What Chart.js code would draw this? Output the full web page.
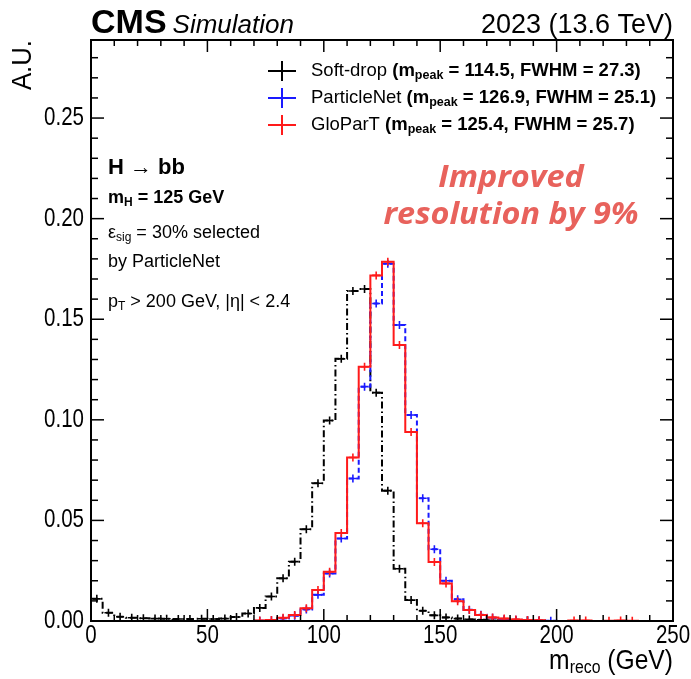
<!DOCTYPE html>
<html lang="en">
<head>
  <meta charset="UTF-8">
  <title>Mass resolution</title>
  <script src="https://cdn.jsdelivr.net/npm/chart.js"></script>
  <style>
    body { margin: 0; background: white; }
    canvas { display: block; }
  </style>
</head>
<body>
  <canvas id="massChart" width="691" height="679"></canvas>
  <script>
    // lower bin edges (GeV), 5 GeV bins
    const binLow = [0, 5, 10, 15, 20, 25, 30, 35, 40, 45, 50, 55, 60, 65, 70, 75, 80, 85, 90, 95,
      100, 105, 110, 115, 120, 125, 130, 135, 140, 145, 150, 155, 160, 165, 170, 175, 180, 185, 190, 195,
      200, 205, 210, 215, 220, 225, 230, 235, 240, 245];

    const softDrop = [0.0110, 0.0041, 0.0021, 0.0016, 0.0014, 0.0012, 0.0011, 0.0010, 0.0010, 0.0011,
      0.0010, 0.0012, 0.0020, 0.0037, 0.0065, 0.0122, 0.0212, 0.0295, 0.0456, 0.0685,
      0.0997, 0.1303, 0.1640, 0.1650, 0.1135, 0.0648, 0.0260, 0.0104, 0.0051, 0.0028,
      0.0018, 0.0012, 0.0008, 0.0006, 0.0004, 0.0003, 0.0002, 0.0002, 0.0001, 0,
      0, 0, 0, 0, 0, 0, 0, 0, 0, 0];

    const particleNet = [0, 0, 0, 0, 0, 0, 0, 0, 0, 0,
      0, 0, 0, 0, 0.0001, 0.0004, 0.0013, 0.0026, 0.0057, 0.0130,
      0.0236, 0.0410, 0.0708, 0.1165, 0.1578, 0.1776, 0.1471, 0.1024, 0.0610, 0.0357,
      0.0200, 0.0108, 0.0056, 0.0031, 0.0016, 0.0010, 0.0006, 0.0004, 0.0002, 0.0001,
      0, 0, 0, 0, 0, 0, 0, 0, 0, 0];

    const gloParT = [0, 0, 0, 0, 0, 0, 0, 0, 0, 0,
      0, 0, 0, 0, 0.0002, 0.0005, 0.0016, 0.0030, 0.0063, 0.0154,
      0.0245, 0.0438, 0.0813, 0.1264, 0.1718, 0.1786, 0.1372, 0.0940, 0.0486, 0.0293,
      0.0187, 0.0098, 0.0055, 0.0030, 0.0018, 0.0012, 0.0008, 0.0005, 0.0004, 0,
      0, 0.0002, 0.0002, 0, 0.0001, 0.0002, 0.0001, 0, 0, 0];

    const xTicks = [0, 50, 100, 150, 200, 250];
    const yTicks = [0, 0.05, 0.10, 0.15, 0.20, 0.25];
    const yTickLabels = ['0.00', '0.05', '0.10', '0.15', '0.20', '0.25'];

    const FONT = "'Liberation Sans', Arial, sans-serif";

    function stepPoints(vals) {
      const pts = binLow.map((x, i) => ({ x: x, y: vals[i] }));
      pts.push({ x: 250, y: vals[vals.length - 1] });
      return pts;
    }

    function crossPoints(vals) {
      return binLow.map((x, i) => ({ x: x + 2.5, y: vals[i] })).filter(p => p.y > 0);
    }

    function histo(vals, color, dash, order) {
      return [{
        data: stepPoints(vals),
        borderColor: color,
        borderWidth: 2,
        borderDash: dash,
        stepped: 'before',
        pointRadius: 0,
        fill: false,
        order: order
      }, {
        data: crossPoints(vals),
        showLine: false,
        borderColor: color,
        backgroundColor: color,
        pointStyle: 'cross',
        pointRadius: 4,
        pointBorderWidth: 1.6,
        order: order
      }];
    }

    // text squeezed horizontally (ROOT fonts look narrower)
    function narrow(ctx, text, x, y, sx) {
      ctx.save();
      ctx.translate(x, y);
      ctx.scale(sx, 1);
      ctx.fillText(text, 0, 0);
      ctx.restore();
    }

    // draws text pieces one after another, with subscripts
    function rich(ctx, x, y, parts, align, sx) {
      sx = sx || 1;
      ctx.textBaseline = 'middle';
      ctx.textAlign = 'left';
      let w = 0;
      parts.forEach(p => { ctx.font = p.f; w += ctx.measureText(p.t).width * sx; });
      let cx = align === 'right' ? x - w : x;
      parts.forEach(p => {
        ctx.font = p.f;
        narrow(ctx, p.t, cx, y + (p.dy || 0), sx);
        cx += ctx.measureText(p.t).width * sx;
      });
    }

    const decor = {
      id: 'decor',
      afterDatasetsDraw(chart) {
        const { ctx, chartArea: a, scales: { x, y } } = chart;
        ctx.save();
        ctx.strokeStyle = '#000';
        ctx.fillStyle = '#000';

        const line = (x1, y1, x2, y2) => {
          ctx.beginPath(); ctx.moveTo(x1, y1); ctx.lineTo(x2, y2); ctx.stroke();
        };

        // frame + ticks inside
        ctx.lineWidth = 2;
        ctx.strokeRect(a.left, a.top, a.right - a.left, a.bottom - a.top);
        ctx.lineWidth = 1.5;
        for (let v = 0; v <= 250; v += 10) {
          const px = x.getPixelForValue(v);
          const len = v % 50 === 0 ? 12 : 6;
          line(px, a.bottom, px, a.bottom - len);
          line(px, a.top, px, a.top + len);
        }
        for (let i = 0; i <= 28; i++) {
          const py = y.getPixelForValue(i / 100);
          const len = i % 5 === 0 ? 13 : 7;
          line(a.left, py, a.left + len, py);
          line(a.right, py, a.right - len, py);
        }

        // tick labels
        ctx.font = '25px ' + FONT;
        ctx.textBaseline = 'middle';
        ctx.textAlign = 'right';
        yTicks.forEach((v, i) => narrow(ctx, yTickLabels[i], a.left - 7, y.getPixelForValue(v), 0.82));
        ctx.textAlign = 'center';
        ctx.textBaseline = 'top';
        xTicks.forEach(v => narrow(ctx, String(v), x.getPixelForValue(v), a.bottom + 3, 0.82));

        // axis titles
        rich(ctx, a.right, 661, [
          { t: 'm', f: '28px ' + FONT },
          { t: 'reco', f: '18px ' + FONT, dy: 7 },
          { t: ' (GeV)', f: '28px ' + FONT }
        ], 'right', 0.88);
        ctx.save();
        ctx.translate(23, 40);
        ctx.rotate(-Math.PI / 2);
        ctx.font = '28px ' + FONT;
        ctx.textAlign = 'right';
        ctx.textBaseline = 'middle';
        narrow(ctx, 'A.U.', 0, 0, 0.92);
        ctx.restore();

        // header
        ctx.textBaseline = 'alphabetic';
        ctx.textAlign = 'left';
        ctx.font = 'bold 34px ' + FONT;
        ctx.fillText('CMS', a.left, 33);
        const cw = ctx.measureText('CMS').width;
        ctx.font = 'italic 26px ' + FONT;
        ctx.fillText('Simulation', a.left + cw + 6, 33);
        ctx.textAlign = 'right';
        ctx.font = '27px ' + FONT;
        ctx.fillText('2023 (13.6 TeV)', a.right, 33);

        // legend
        const leg = [
          ['#000', 'Soft-drop ', ' = 114.5, FWHM = 27.3)'],
          ['#1a1aff', 'ParticleNet ', ' = 126.9, FWHM = 25.1)'],
          ['#ff1a1a', 'GloParT ', ' = 125.4, FWHM = 25.7)']
        ];
        leg.forEach((e, i) => {
          const ly = 71 + i * 27;
          ctx.strokeStyle = e[0];
          ctx.lineWidth = 2;
          line(268, ly, 296, ly);
          line(282, ly - 10, 282, ly + 10);
          ctx.fillStyle = '#000';
          rich(ctx, 311, ly, [
            { t: e[1], f: '18.5px ' + FONT },
            { t: '(m', f: 'bold 18.5px ' + FONT },
            { t: 'peak', f: 'bold 12.5px ' + FONT, dy: 5 },
            { t: e[2], f: 'bold 18.5px ' + FONT }
          ]);
        });

        // process text
        ctx.fillStyle = '#000';
        rich(ctx, 108, 168, [{ t: 'H \u2192 bb', f: 'bold 22px ' + FONT }]);
        rich(ctx, 108, 198, [
          { t: 'm', f: 'bold 18px ' + FONT },
          { t: 'H', f: 'bold 12px ' + FONT, dy: 5 },
          { t: ' = 125 GeV', f: 'bold 18px ' + FONT }
        ]);
        rich(ctx, 108, 233, [
          { t: '\u03b5', f: '18px ' + FONT },
          { t: 'sig', f: '12px ' + FONT, dy: 5 },
          { t: ' = 30% selected', f: '18px ' + FONT }
        ]);
        rich(ctx, 108, 262, [{ t: 'by ParticleNet', f: '18px ' + FONT }]);
        rich(ctx, 108, 302, [
          { t: 'p', f: '18px ' + FONT },
          { t: 'T', f: '12px ' + FONT, dy: 5 },
          { t: ' > 200 GeV, |\u03b7| < 2.4', f: '18px ' + FONT }
        ]);

        // highlight
        ctx.fillStyle = '#e8625c';
        ctx.textAlign = 'center';
        ctx.textBaseline = 'middle';
        ctx.font = "italic bold 30px 'Open Sans', sans-serif";
        narrow(ctx, 'Improved', 511, 178, 1.08);
        narrow(ctx, 'resolution by 9%', 511, 215, 1.08);

        ctx.restore();
      }
    };

    new Chart(document.getElementById('massChart'), {
      type: 'line',
      data: {
        datasets: [
          ...histo(gloParT, '#ff1a1a', [], 0),
          ...histo(particleNet, '#1a1aff', [5, 3], 1),
          ...histo(softDrop, '#000', [7, 3, 1.5, 3], 2)
        ]
      },
      options: {
        responsive: false,
        animation: false,
        layout: { padding: { left: 91, right: 18, top: 40, bottom: 58 } },
        scales: {
          x: { type: 'linear', min: 0, max: 250, display: false },
          y: { type: 'linear', min: 0, max: 0.2888, display: false }
        },
        plugins: { legend: { display: false }, tooltip: { enabled: false } }
      },
      plugins: [decor]
    });
  </script>
</body>
</html>
